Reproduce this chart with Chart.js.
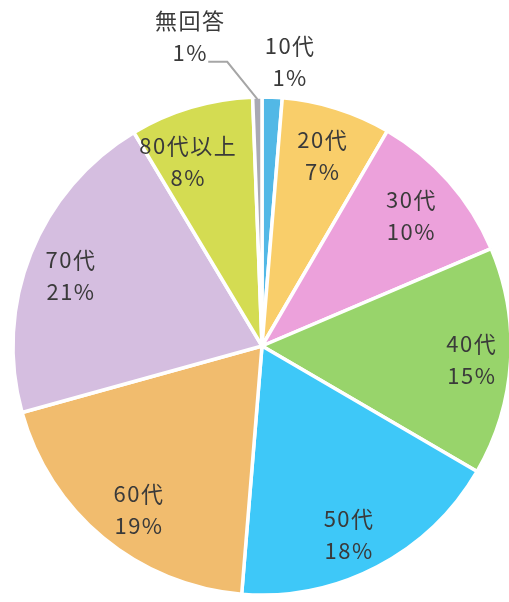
<!DOCTYPE html>
<html>
<head>
<meta charset="utf-8">
<script src="https://cdn.jsdelivr.net/npm/chart.js@4"></script>
<style>
  html, body { margin: 0; padding: 0; background: #fff; }
  #wrap { width: 509px; height: 602px; position: relative; }
</style>
</head>
<body>
<div id="wrap"><canvas id="chart"></canvas></div>
<script>
// age groups, clockwise from 12 o'clock
const categories = ['10代', '20代', '30代', '40代', '50代', '60代', '70代', '80代以上', '無回答'];
const shares = [1.3, 7.1, 10.2, 14.8, 17.9, 19.4, 20.7, 8.0, 0.6];
const shareLabels = ['1%', '7%', '10%', '15%', '18%', '19%', '21%', '8%', '1%'];

const colors = ['#52b8e6', '#f9ce6a', '#eca1db', '#98d46b', '#3ec8f8', '#f1bc6e', '#d5bee0', '#d4dc52', '#a9a9b3'];
// nudges from the default label spot (mid angle, 0.8 of radius)
const labelNudge = [[20, -85], [1, 0], [0, 1], [11, 1], [-5, 12], [4, 10], [-6, 4], [-17, 7], [-68, -110]];

const labelPlugin = {
  id: 'sliceLabels',
  afterDatasetsDraw(chart) {
    const { ctx } = chart;
    const meta = chart.getDatasetMeta(0);
    ctx.save();
    ctx.font = '22px "Noto Sans CJK JP", sans-serif';
    ctx.letterSpacing = '1.5px';
    ctx.fillStyle = '#3a3a3a';
    ctx.textAlign = 'center';
    ctx.textBaseline = 'middle';
    meta.data.forEach((arc, i) => {
      const { x, y, startAngle, endAngle, outerRadius } = arc.getProps(['x', 'y', 'startAngle', 'endAngle', 'outerRadius'], true);
      const mid = (startAngle + endAngle) / 2;
      const r = outerRadius * 0.8;
      const lx = x + Math.cos(mid) * r + labelNudge[i][0];
      const ly = y + Math.sin(mid) * r + labelNudge[i][1];
      ctx.fillText(categories[i], lx, ly - 16);
      ctx.fillText(shareLabels[i], lx, ly + 16);
      if (categories[i] === '無回答') {
        // leader line to the thin slice
        ctx.strokeStyle = '#a6a6a6';
        ctx.lineWidth = 2;
        ctx.beginPath();
        ctx.moveTo(lx + 18, ly + 25);
        ctx.lineTo(lx + 37, ly + 25);
        ctx.lineTo(x + Math.cos(mid) * (outerRadius - 2), y + Math.sin(mid) * (outerRadius - 2));
        ctx.stroke();
      }
    });
    ctx.restore();
  }
};

new Chart(document.getElementById('chart'), {
  type: 'pie',
  data: {
    labels: categories,
    datasets: [{
      data: shares,
      backgroundColor: colors,
      borderColor: '#ffffff',
      borderWidth: 3.5
    }]
  },
  options: {
    responsive: true,
    maintainAspectRatio: false,
    animation: false,
    radius: 249,
    layout: { padding: { left: 15, right: 0, top: 90, bottom: 0 } },
    plugins: {
      legend: { display: false },
      tooltip: { enabled: false }
    }
  },
  plugins: [labelPlugin]
});
</script>
</body>
</html>
